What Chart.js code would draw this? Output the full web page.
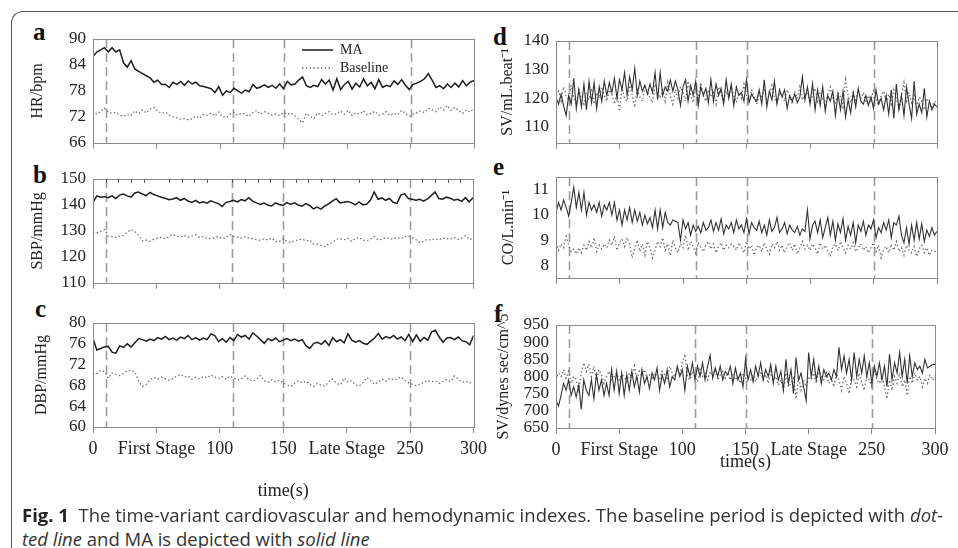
<!DOCTYPE html>
<html><head><meta charset="utf-8">
<script src="https://cdn.jsdelivr.net/npm/chart.js@4.4.0/dist/chart.umd.min.js"></script>
<style>
html,body{margin:0;padding:0;background:#fff;width:958px;height:548px;overflow:hidden;position:relative;}
.frame{position:absolute;left:11px;top:11px;width:1000px;height:600px;border-top:1.5px solid #555;border-left:1.5px solid #555;border-top-left-radius:12px;}
canvas{position:absolute;}
.lab{position:absolute;font:bold 25px "Liberation Serif",serif;color:#111;line-height:1;}
.cap{position:absolute;left:22px;white-space:nowrap;font-family:"Liberation Sans Narrow","Open Sans",sans-serif;font-size:18px;line-height:20px;color:#333;transform-origin:0 0;}
.cap b{color:#222;}
</style></head><body>
<div class="frame"></div>
<div class="lab" style="left:33px;top:19px">a</div>
<div class="lab" style="left:33px;top:162px">b</div>
<div class="lab" style="left:35px;top:296px">c</div>
<div class="lab" style="left:493px;top:24px">d</div>
<div class="lab" style="left:493px;top:154px">e</div>
<div class="lab" style="left:494px;top:301px">f</div>
<canvas id="ca"></canvas><canvas id="cb"></canvas><canvas id="cc"></canvas>
<canvas id="cd"></canvas><canvas id="ce"></canvas><canvas id="cf"></canvas>
<div class="cap" id="cap1" style="top:505px"><b>Fig. 1</b>&nbsp; The time-variant cardiovascular and hemodynamic indexes. The baseline period is depicted with <i>dot-</i></div>
<div class="cap" id="cap2" style="top:529px"><i>ted line</i> and MA is depicted with <i>solid line</i></div>
<script>
// ---------- data ----------
const xTickValues = [0,50,100,150,200,250,300];
const xTickLabels = ['0','First Stage','100','150','Late Stage','250','300'];
const stageMarks = [10,110,150,250];
const seriesLabels = ['MA','Baseline'];

const times3 = [0,3,6,9,12,15,18,21,24,27,
30,33,36,39,42,45,48,51,54,57,
60,63,66,69,72,75,78,81,84,87,
90,93,96,99,102,105,108,111,114,117,
120,123,126,129,132,135,138,141,144,147,
150,153,156,159,162,165,168,171,174,177,
180,183,186,189,192,195,198,201,204,207,
210,213,216,219,222,225,228,231,234,237,
240,243,246,249,252,255,258,261,264,267,
270,273,276,279,282,285,288,291,294,297,
300];

const times2 = [0,2,4,6,8,10,12,14,16,18,
20,22,24,26,28,30,32,34,36,38,
40,42,44,46,48,50,52,54,56,58,
60,62,64,66,68,70,72,74,76,78,
80,82,84,86,88,90,92,94,96,98,
100,102,104,106,108,110,112,114,116,118,
120,122,124,126,128,130,132,134,136,138,
140,142,144,146,148,150,152,154,156,158,
160,162,164,166,168,170,172,174,176,178,
180,182,184,186,188,190,192,194,196,198,
200,202,204,206,208,210,212,214,216,218,
220,222,224,226,228,230,232,234,236,238,
240,242,244,246,248,250,252,254,256,258,
260,262,264,266,268,270,272,274,276,278,
280,282,284,286,288,290,292,294,296,298,
300];

// a: HR (bpm)
const hrMA = [86.0,87.0,87.5,88.0,87.0,88.0,87.0,87.5,84.5,83.5,
85.0,83.0,82.5,82.0,81.5,81.0,80.0,80.5,79.5,79.5,
78.8,80.0,79.5,80.2,79.3,80.3,79.6,80.0,79.2,79.0,
78.8,78.5,77.6,79.0,77.0,78.0,77.6,78.6,78.0,77.5,
78.2,77.8,79.5,78.6,78.9,79.4,78.8,79.3,78.6,79.6,
78.5,80.2,79.4,79.6,80.5,81.2,79.2,78.8,79.3,79.0,
80.6,79.6,80.5,78.2,80.8,78.3,79.5,80.2,78.4,79.8,
78.9,80.8,79.2,80.0,78.5,80.6,78.8,79.3,79.0,80.3,
79.5,80.6,79.3,78.3,79.5,79.8,80.2,80.8,82.0,80.5,
78.8,79.2,78.5,79.6,78.8,79.8,78.9,80.4,79.2,80.0,
80.4];
const hrBase = [73.5,72.6,73.2,74.0,73.1,72.8,73.0,72.4,72.1,72.6,
72.3,73.4,72.7,73.6,72.9,73.8,74.2,73.3,72.8,73.1,
72.4,72.0,71.8,71.4,71.6,71.3,71.5,72.2,71.7,72.6,
72.4,72.9,72.2,73.1,72.0,71.8,72.6,73.0,72.4,72.9,
72.5,72.1,73.0,73.5,72.6,73.2,72.8,72.4,72.7,72.3,
73.0,72.6,72.9,72.2,71.4,70.6,72.8,72.1,71.6,72.9,
72.3,72.8,73.2,72.5,72.7,73.4,72.6,73.5,72.3,72.9,
72.6,73.4,72.5,72.8,73.3,72.4,72.6,73.2,72.3,72.8,
72.5,73.5,72.8,72.1,72.6,72.9,73.4,73.0,74.0,73.6,
73.2,74.3,73.6,74.6,73.5,74.2,73.4,72.8,73.6,73.1,
74.0];

// b: SBP (mmHg)
const sbpMA = [141,143.5,143,143.2,142.8,143.5,142.5,143.8,144.2,143.5,
143,144.6,145,144.2,143.6,144.8,144,143.5,143,142.6,
142,142.3,142.8,141.8,142.5,141.5,141,141.8,140.8,141.2,
140.7,141.6,141,140.5,139.4,141,141.3,141.8,141.2,142.1,
141.6,142.8,141.5,140.8,140.2,140.7,140,139.6,140.8,140.2,
139.8,140.9,140.2,140.8,140,139.5,140.5,139.8,138.5,139.2,
138.4,139.6,140.4,141.5,142.4,140.8,141,141.3,140.9,140,
141.2,140.1,140.3,141.8,145,142.2,142.7,141.8,142.5,141,
140.6,143.8,144.3,142.5,142.2,141.8,142.2,141.5,142.3,143.6,
145,142.5,142.2,143,142.6,141.8,142.2,141.4,142.8,141.2,
142.8];
const sbpBase = [129.5,129.2,129.8,130.5,128,127.8,127.5,128,128.2,129.5,
130.5,129.8,128.2,126.2,126.5,126,126.8,127.2,127.5,127,
127.8,128.6,128,127.6,128.2,127.5,128,128.5,127.5,127.8,
127.2,127,127.5,127.8,127,127.4,128.6,128,127.6,127.2,
127.8,127.2,127,126.6,126.4,127,126.5,127.2,126,125.8,
127,126,125.5,126.2,126.5,126.8,126.2,126.5,125,124.8,
124.5,124,125,125.5,126.8,127,126.5,127.2,126,127,
127.5,126.5,126.2,126.8,127.8,126.5,126.8,127.4,127,126.8,
127.5,127,127.8,128,127.4,126.6,125.5,126,126.8,126.5,
127,126.5,127.2,127,126.8,127.5,126.8,127.2,128.2,126.8,
127];

// c: DBP (mmHg)
const dbpMA = [77,74.8,75.1,75.4,75.5,74.4,74.2,75.6,75.3,76,
75.4,76.2,77,76.8,76.5,76.9,76.6,77.2,76.9,77.4,
76.8,77.1,76.7,77.3,77,77.6,76.8,77.2,76.7,77.1,
76.8,77.9,77.6,76.4,77,76.3,77.2,76.6,77.8,77.3,
77.6,76.9,78.1,77.5,76.8,76.1,77,76.6,77.1,76.4,
76.7,77,76.6,76.9,76.5,76.8,75.6,75.1,76.1,76.3,
75.9,76.6,75.7,77.2,76.4,76.8,76.2,77.9,76.7,76.3,
76.6,76.1,75.9,76.5,77.1,78,76.9,77.4,77.1,77.6,
76.9,77.3,76.6,77.8,76.4,77.7,76.5,77.2,76.7,78.3,
78.6,77.3,76.3,77.1,77.2,76.8,77.3,76.6,76.4,75.8,
77.6];
const dbpBase = [70.3,70.2,70.9,70.6,69.4,70.4,70.1,69.9,70.3,70.8,
70.9,70.6,68.8,67.8,68.2,69.1,69.5,69.2,69.6,69.3,
69,69.3,69.8,70.1,69.6,69.8,69.2,69.6,69.3,69.7,
69.5,70,69.6,69.3,69.7,69.2,69.8,69.4,69,69.3,
69.8,69.1,68.8,69.2,69.9,68.9,68.6,69.1,68.7,69,
68.5,68.1,67.8,68.4,68.9,68.5,68.8,68.2,67.8,68.4,
68,67.9,68.7,69.2,68.4,68.1,69.4,68.6,68.9,68.1,
67.9,68.6,69.5,68.9,68.2,68.7,69.2,68.8,69.4,69,
69.3,69.6,68.9,68.5,68.2,67.9,68.3,68.6,69,68.7,
68.9,68.4,68.8,69.1,68.7,69.8,69.2,68.6,68.8,68.5,
68.6];

// d: SV (mL/beat)
const svMA = [120.5,118,121.5,117.5,114,121,118,127,116.5,123,
117,125,116,126,118.5,125.5,116.5,124,119,126,
121,125.5,122,127,120,126.5,123,129,121,127.5,
123,130.5,121,126,122.5,124.5,121.5,125,122,129,
119.5,129,121,124,122.5,126.5,122.5,126,123,117.5,
124,126.5,119,124.5,121,126,117.5,124,121,123.5,
118.5,126.5,119,125,121,123.5,118,126.5,120,125,
117.5,124,121,122,119,126.5,118.5,121.5,120,119,
123,118,126.5,117,122.5,119.5,126,118,123,120.5,
123,116.5,121,119,121.5,118.5,120.5,127.5,119.5,124,
118,125,116,123,117.5,124,115.5,121,119,122.5,
114,121.5,116,122.5,113.5,119.5,115,122,117,123.5,
119,118,121,117.5,120.5,116.5,123,118,120,116,
121,114.5,123,113,125,116,121,114,124,118,
113,126,114.5,118,115,123.5,113.5,119,116,118,
117];
const svBase = [121,122.5,119,124,121,119.5,124.5,120.5,118,123,
120,118,122,119.5,123.5,118,122,120,124,121,
119,123,121.5,118,122,115.5,123.5,120,119,124.5,
121,117,123,120.5,119,124,122.5,120,118.5,125,
122,120,123,119,125.5,121,118,123,120,124,
122,119,126,121,118.5,123,120,125.5,121,119,
123,120.5,122,118,124,121.5,119,122.5,120,124,
121,118.5,122,120,125,121,119,123,120.5,118,
122,120,123.5,119,121.5,124.5,120,118.5,122,121,
119,123,121,118,122.5,120,124,119.5,121,122,
118.5,121,123.5,119,122,120,117.5,121.5,124,120,
118,122,120.5,117,126.5,121,118.5,122,119.5,123,
120,122,118.5,121,119,123,120,117.5,121,122.5,
119,121.5,118,123,120,116.5,121,125.5,119,122,
118.5,121,117,120.5,119,116,120,118.5,117,119,
118];

// e: CO (L/min)
const coMA = [10.1,10.5,10.2,10.6,10.3,9.95,10.5,11.1,10.3,10.9,
10.2,10.9,10.0,10.5,10.2,10.4,10.1,10.5,9.95,10.4,
10.2,10.5,10.0,10.5,9.8,10.2,9.6,10.2,9.8,10.3,
9.7,10.2,9.75,10.1,9.6,10.0,9.65,9.9,9.5,10.2,
9.45,10.2,9.5,10.1,9.7,9.6,9.8,9.75,9.7,9.0,
9.8,9.45,9.7,9.2,9.6,9.35,9.55,9.3,9.7,9.4,
9.5,9.8,9.35,9.7,9.4,9.85,9.25,9.6,9.45,9.7,
9.3,9.8,9.45,9.6,9.3,9.85,9.25,9.7,9.5,9.4,
9.75,9.3,9.6,9.2,9.8,9.35,9.5,9.9,9.3,9.45,
9.7,9.25,9.6,9.4,9.3,9.55,9.2,9.45,9.35,10.2,
9.05,9.6,9.75,9.3,9.8,9.1,9.5,9.9,9.2,9.75,
9.0,9.65,9.3,9.85,9.0,9.55,9.2,9.7,8.9,9.6,
9.35,9.75,9.2,9.6,9.45,9.8,9.1,9.5,9.3,9.7,
9.4,9.8,9.1,9.7,9.6,9.95,9.2,8.9,9.5,8.85,
9.6,9.0,9.7,9.05,9.65,8.95,9.4,9.15,9.5,9.2,
9.35];
const coBase = [8.9,8.6,8.85,8.7,9.15,8.8,8.55,8.65,8.45,8.7,
8.5,8.8,8.6,8.95,8.7,9.1,8.55,8.8,8.65,8.85,
8.7,9.0,8.8,9.15,8.6,8.9,9.05,8.75,9.1,8.85,
8.3,8.7,9.0,8.55,8.85,8.4,8.95,8.7,8.3,8.6,
8.95,8.75,9.1,8.6,8.85,8.4,9.0,8.7,8.5,8.85,
8.7,9.2,8.6,8.95,8.75,8.5,8.9,8.7,8.55,8.8,
8.95,8.65,8.85,8.5,8.75,8.9,8.6,8.8,8.7,8.85,
8.75,8.6,8.9,8.7,8.5,8.95,8.65,8.8,8.4,8.7,
8.8,8.55,8.9,8.65,8.45,8.85,8.7,8.95,8.6,8.8,
8.5,8.75,8.9,8.6,8.85,8.45,8.7,8.95,8.65,8.8,
8.6,8.85,8.7,8.45,8.9,8.65,8.8,8.55,8.35,8.75,
8.85,8.6,8.95,8.7,8.5,8.8,8.65,8.9,8.55,8.7,
8.85,8.6,8.75,8.5,8.7,8.9,8.55,8.8,8.3,8.65,
8.75,8.5,8.85,8.6,8.95,8.55,8.7,8.4,8.8,8.6,
8.5,8.75,8.35,8.65,8.8,8.5,8.7,8.4,8.6,8.55,
8.6];

// f: SVR (dynes sec/cm^5)
const svrMA = [730,714,745,780,760,790,745,770,740,775,
705,790,760,745,790,735,805,760,790,745,
780,745,820,760,815,750,810,745,805,760,
815,770,800,755,820,780,800,765,810,790,
825,760,805,780,820,770,800,790,830,800,
820,760,830,800,840,790,830,800,840,790,
830,862,795,825,800,830,790,815,805,830,
780,825,790,810,770,850,790,820,785,830,
800,840,790,820,800,835,780,830,790,815,
760,850,780,820,750,855,790,810,770,730,
870,800,850,790,830,780,820,800,810,790,
820,800,885,820,860,810,850,790,870,800,
850,810,860,800,840,780,830,800,840,790,
830,770,865,790,840,810,870,800,850,780,
860,800,840,820,830,810,850,825,830,835,
835];
const svrBase = [790,810,800,820,795,815,780,800,790,760,
810,840,815,835,800,830,790,820,805,780,
800,815,790,800,810,790,805,800,785,810,
795,830,790,815,800,820,795,805,790,810,
800,790,815,805,790,830,810,800,820,805,
840,865,800,790,815,800,785,820,800,810,
790,815,800,820,790,805,815,795,810,790,
805,790,800,780,810,795,800,790,805,785,
800,810,790,805,780,815,790,800,775,790,
760,810,770,780,795,735,800,760,790,770,
800,790,810,780,820,800,790,810,780,795,
770,810,790,760,800,780,750,800,790,770,
810,780,760,800,790,770,820,790,780,800,
770,735,790,760,800,780,810,770,790,745,
800,780,810,790,800,770,795,780,805,790,
800];

// ---------- drawing ----------
const SERIF = '"Liberation Serif","Times New Roman",serif';
const TXT = '#222';

function decorPlugin(cfg){
  return {
    id:'decor_'+cfg.id,
    beforeDatasetsDraw(chart){
      const {ctx, chartArea:a, scales:{x}} = chart;
      ctx.save();
      ctx.strokeStyle = '#9c9c9c'; ctx.lineWidth = 1.6; ctx.setLineDash([9,5]);
      stageMarks.forEach(v=>{
        const px = Math.round(x.getPixelForValue(v))+0.5;
        ctx.beginPath(); ctx.moveTo(px, a.top); ctx.lineTo(px, a.bottom); ctx.stroke();
      });
      ctx.restore();
    },
    afterDatasetsDraw(chart){
      const {ctx, chartArea:a, scales:{x}} = chart;
      ctx.save();
      ctx.strokeStyle = '#8a8a8a'; ctx.lineWidth = 1; ctx.setLineDash([]);
      ctx.strokeRect(Math.round(a.left)+0.5, Math.round(a.top)+0.5, Math.round(a.right-a.left), Math.round(a.bottom-a.top));
      if (cfg.minorTop){
        ctx.strokeStyle = '#555';
        for (let v=10; v<300; v+=10){
          if (v%50===0) continue;
          const px = Math.round(x.getPixelForValue(v))+0.5;
          ctx.beginPath(); ctx.moveTo(px, a.top); ctx.lineTo(px, a.top+4); ctx.stroke();
        }
      }
      if (cfg.legend){
        const ds = chart.data.datasets;
        const lx = a.left + 209, ly = a.top + 11;
        ctx.font = '14px '+SERIF; ctx.fillStyle = TXT; ctx.textBaseline = 'middle';
        ds.forEach((d,i)=>{
          const yy = ly + i*18;
          ctx.strokeStyle = d.borderColor; ctx.lineWidth = d.borderWidth;
          ctx.setLineDash(d.borderDash || []);
          ctx.beginPath(); ctx.moveTo(lx, yy); ctx.lineTo(lx+31, yy); ctx.stroke();
          ctx.setLineDash([]);
          ctx.fillText(d.label, lx+38, yy);
        });
      }
      ctx.restore();
    }
  };
}

function panel(cfg){
  const cv = document.getElementById(cfg.id);
  const [bx,by,bw,bh] = cfg.box;
  cv.width = bw; cv.height = bh;
  cv.style.left = bx+'px'; cv.style.top = by+'px';
  cv.style.width = bw+'px'; cv.style.height = bh+'px';
  const padL = 10;
  const yw = cfg.area.l - bx - padL;
  const xh = by + bh - cfg.area.b;
  const mk = (vals)=> cfg.times.map((t,i)=>({x:t, y:vals[i]}));
  new Chart(cv, {
    type:'line',
    data:{datasets:[
      {label:seriesLabels[0], data:mk(cfg.ma), borderColor:cfg.maColor, borderWidth:cfg.maWidth, pointRadius:0, tension:0, fill:false},
      {label:seriesLabels[1], data:mk(cfg.base), borderColor:'#6a6a6a', borderWidth:1.3, borderDash:[1.4,2.4], pointRadius:0, tension:0, fill:false}
    ]},
    options:{
      responsive:false, animation:false, events:[],
      layout:{padding:{left:padL, top:cfg.area.t-by, right:bx+bw-cfg.area.r, bottom:0}},
      plugins:{legend:{display:false}, tooltip:{enabled:false}},
      scales:{
        x:{type:'linear', min:0, max:300,
          afterBuildTicks(s){ s.ticks = xTickValues.map(v=>({value:v})); },
          afterFit(s){ s.height = xh; },
          ticks:{display:cfg.showX, autoSkip:false, maxRotation:0, minRotation:0, padding:5,
            font:{family:SERIF, size:18}, color:TXT,
            callback:(v)=>{ const k = xTickValues.indexOf(v); return k>=0 ? xTickLabels[k] : ''; }},
          grid:{display:true, drawOnChartArea:false, drawTicks:true, tickLength:6, color:'#8a8a8a'},
          border:{display:false},
          title:{display:cfg.showX, text:'time(s)', font:{family:SERIF, size:18}, color:TXT, padding:{top:0, bottom:cfg.xTitlePad||0}}
        },
        y:{min:cfg.y.min, max:cfg.y.max,
          afterBuildTicks(s){ s.ticks = cfg.y.ticks.map(v=>({value:v})); },
          afterFit(s){ s.width = yw; },
          ticks:{autoSkip:false, font:{family:SERIF, size:17}, color:TXT, padding:7},
          grid:{display:false, drawTicks:false},
          border:{display:false},
          title:{display:true, text:cfg.y.title, font:{family:SERIF, size:cfg.y.tsize||16}, color:TXT, padding:{top:cfg.y.tpad, bottom:0}}
        }
      }
    },
    plugins:[decorPlugin(cfg)]
  });
}

panel({id:'ca', box:[0,0,492,160], area:{l:93,t:39,r:474,b:143}, times:times3, ma:hrMA, base:hrBase,
  maColor:'#1e1e1e', maWidth:1.5, showX:false, legend:true,
  y:{min:66, max:90, ticks:[66,72,78,84,90], title:'HR/bpm', tpad:18}});
panel({id:'cb', box:[0,160,492,140], area:{l:93,t:179,r:473,b:283}, times:times3, ma:sbpMA, base:sbpBase,
  maColor:'#1e1e1e', maWidth:1.5, showX:false, minorTop:true,
  y:{min:110, max:150, ticks:[110,120,130,140,150], title:'SBP/mmHg', tpad:18}});
panel({id:'cc', box:[0,300,492,215], area:{l:93,t:323,r:474,b:427}, times:times3, ma:dbpMA, base:dbpBase,
  maColor:'#1e1e1e', maWidth:1.5, showX:true, xTitlePad:13,
  y:{min:60, max:80, ticks:[60,64,68,72,76,80], title:'DBP/mmHg', tpad:22}});
panel({id:'cd', box:[480,0,478,160], area:{l:556,t:41,r:937,b:144}, times:times2, ma:svMA, base:svBase,
  maColor:'#333', maWidth:1.1, showX:false,
  y:{min:104.5, max:140, ticks:[110,120,130,140], title:'SV/mL.beat\u207B\u00B9', tpad:8}});
panel({id:'ce', box:[480,160,478,140], area:{l:556,t:175,r:937,b:278}, times:times2, ma:coMA, base:coBase,
  maColor:'#333', maWidth:1.1, showX:false,
  y:{min:7.5, max:11.5, ticks:[8,9,10,11], title:'CO/L.min\u207B\u00B9', tpad:9}});
panel({id:'cf', box:[480,300,478,190], area:{l:556,t:325,r:935,b:428}, times:times2, ma:svrMA, base:svrBase,
  maColor:'#333', maWidth:1.1, showX:true, xTitlePad:17,
  y:{min:650, max:950, ticks:[650,700,750,800,850,900,950], title:'SV/dynes sec/cm^5', tpad:4}});

// caption fit
(function(){
  const c1 = document.getElementById('cap1'), c2 = document.getElementById('cap2');
  const k = 921 / c1.getBoundingClientRect().width;
  c1.style.transform = 'scaleX('+k+')';
  c2.style.transform = 'scaleX('+k+')';
})();
</script>
</body></html>
